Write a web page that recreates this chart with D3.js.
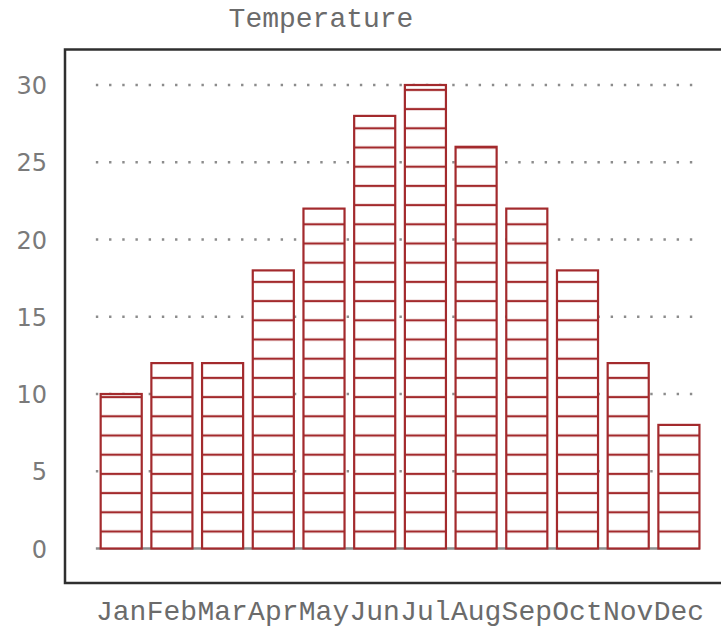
<!DOCTYPE html>
<html>
<head>
<meta charset="utf-8">
<script src="https://cdn.jsdelivr.net/npm/d3@7"></script>
<style>
  html, body { margin: 0; padding: 0; background: #fff; }
  svg { display: block; }
</style>
</head>
<body>
<svg id="chart" width="721" height="629"></svg>
<script>
// Monthly temperature values
const months = ["Jan","Feb","Mar","Apr","May","Jun","Jul","Aug","Sep","Oct","Nov","Dec"];
const temperatures = [10, 12, 12, 18, 22, 28, 30, 26, 22, 18, 12, 8];
const yTicks = [0, 5, 10, 15, 20, 25, 30];
const chartTitle = "Temperature";

const svg = d3.select("#chart");
const barColor = "#a32a2d";
const textColor = "#6b6b6b";

const x = d3.scaleBand()
  .domain(months)
  .range([95.85, 704.25])
  .paddingInner(0.19)
  .paddingOuter(0.095);

const y = d3.scaleLinear()
  .domain([0, 30])
  .range([548.5, 85]);

// Horizontal hatch used to fill the bars
const defs = svg.append("defs");
const hatchStep = 19.2;
const pat = defs.append("pattern")
  .attr("id", "hatch")
  .attr("patternUnits", "userSpaceOnUse")
  .attr("x", 0)
  .attr("y", (y(0) - 17 - hatchStep / 2) % hatchStep)
  .attr("width", 10)
  .attr("height", hatchStep);
pat.append("rect").attr("width", 10).attr("height", hatchStep).attr("fill", "#fff");
pat.append("line")
  .attr("x1", 0).attr("x2", 10)
  .attr("y1", hatchStep / 2).attr("y2", hatchStep / 2)
  .attr("stroke", barColor).attr("stroke-width", 2.2);

// Title
svg.append("text")
  .attr("x", 321)
  .attr("y", 27)
  .attr("text-anchor", "middle")
  .attr("font-family", "'Liberation Mono', 'Courier New', monospace")
  .attr("font-size", 28)
  .attr("fill", textColor)
  .text(chartTitle);

// Grid lines: dotted, with a solid baseline at zero
const gridX0 = 95.85, gridX1 = 700;
svg.append("g")
  .selectAll("line")
  .data(yTicks)
  .join("line")
  .attr("x1", gridX0)
  .attr("x2", gridX1)
  .attr("y1", d => y(d))
  .attr("y2", d => y(d))
  .attr("stroke", "#8c8c8c")
  .attr("stroke-width", 2.4)
  .attr("stroke-dasharray", d => d === 0 ? null : "2.4 10.8");

// Y axis labels
const yAxis = d3.axisLeft(y).tickValues(yTicks).tickSize(0).tickPadding(0);
const yg = svg.append("g")
  .attr("transform", "translate(47,0)")
  .call(yAxis);
yg.select(".domain").remove();
yg.selectAll("text")
  .attr("font-family", "'DejaVu Sans', Verdana, sans-serif")
  .attr("font-size", 24)
  .attr("fill", "#7a7a7a")
  .attr("dy", "0.36em");

// Bars
svg.append("g")
  .selectAll("rect")
  .data(temperatures)
  .join("rect")
  .attr("x", (d, i) => x(months[i]))
  .attr("y", d => y(d))
  .attr("width", x.bandwidth())
  .attr("height", d => y(0) - y(d))
  .attr("fill", "url(#hatch)")
  .attr("stroke", barColor)
  .attr("stroke-width", 2.2);

// X axis labels
const xAxis = d3.axisBottom(x).tickSize(0).tickPadding(0);
const xg = svg.append("g")
  .attr("transform", "translate(0,600)")
  .call(xAxis);
xg.select(".domain").remove();
xg.selectAll("text")
  .attr("font-family", "'Liberation Mono', 'Courier New', monospace")
  .attr("font-size", 28)
  .attr("fill", textColor)
  .attr("dy", "0.71em")
  .attr("y", 0);

// Plot frame
svg.append("rect")
  .attr("x", 65)
  .attr("y", 49.5)
  .attr("width", 700)
  .attr("height", 533.5)
  .attr("fill", "none")
  .attr("stroke", "#2f2f2f")
  .attr("stroke-width", 2.5);
</script>
</body>
</html>
